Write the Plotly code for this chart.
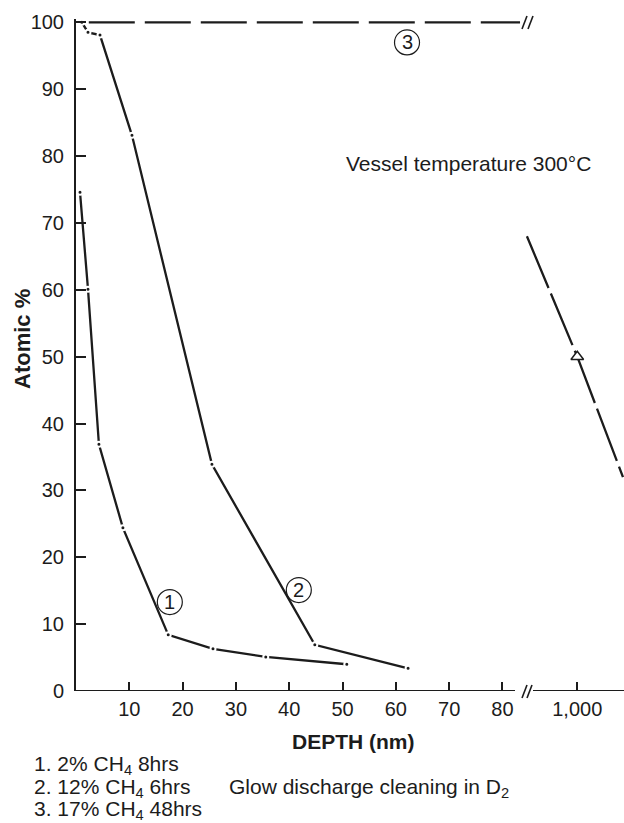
import plotly.graph_objects as go

# ---- data ----
c1_depth = [0.75, 2.25, 4.3, 8.8, 17.3, 25.7, 35.6, 50.8]
c1_atomic = [74.6, 60.1, 36.9, 24.4, 8.4, 6.3, 5.1, 4.0]

c2_depth = [1.1, 2.25, 4.5, 10.5, 25.5, 44.8, 62.3]
c2_atomic = [100.0, 98.5, 98.1, 83.1, 33.9, 6.9, 3.4]

c3_depth = [2.4, 83.3]
c3_atomic = [100.0, 100.0]

c3b_depth = [903, 1000, 1088]
c3b_atomic = [68.0, 50.0, 32.0]

x_ticks = [10, 20, 30, 40, 50, 60, 70, 80]
x2_ticks = [1000]
x2_ticktext = ["1,000"]
y_ticks = [0, 10, 20, 30, 40, 50, 60, 70, 80, 90, 100]

legend_lines = ["1. 2% CH<sub>4</sub> 8hrs", "2. 12% CH<sub>4</sub> 6hrs", "3. 17% CH<sub>4</sub> 48hrs"]
note_text = "Glow discharge cleaning in D<sub>2</sub>"
vessel_text = "Vessel temperature 300°C"

# ---- styling ----
INK = "#1c1c1c"
FONT = "Liberation Sans, Arial, Helvetica, sans-serif"
W, H = 624, 823
L, R, T, B = 76, 0, 19, 132
PW, PH = W - L - R, H - T - B
TXT = 21


def px(xp):
    return (xp - L) / PW


def py(yp):
    return (H - B - yp) / PH


fig = go.Figure()

mk = dict(size=5, color=INK, line=dict(color="white", width=2))
fig.add_trace(go.Scatter(x=c1_depth, y=c1_atomic, mode="lines+markers",
                         line=dict(color=INK, width=2.3), marker=mk))
fig.add_trace(go.Scatter(x=c2_depth, y=c2_atomic, mode="lines+markers",
                         line=dict(color=INK, width=2.3), marker=mk))
fig.add_trace(go.Scatter(x=c3_depth, y=c3_atomic, mode="lines",
                         line=dict(color=INK, width=2.3, dash="46px,10px")))
fig.add_trace(go.Scatter(x=c3b_depth, y=c3b_atomic, mode="lines", xaxis="x2", yaxis="y",
                         line=dict(color=INK, width=2.3, dash="56px,6px")))
fig.add_trace(go.Scatter(x=[c3b_depth[1]], y=[c3b_atomic[1]], mode="markers", xaxis="x2", yaxis="y",
                         marker=dict(symbol="triangle-up", size=11, color="white",
                                     line=dict(color=INK, width=1.5))))

shapes = []
# x axis line (broken)
shapes.append(dict(type="line", xref="paper", yref="y", x0=0, x1=px(515), y0=0, y1=0,
                   line=dict(color=INK, width=2)))
shapes.append(dict(type="line", xref="paper", yref="y", x0=px(533), x1=1, y0=0, y1=0,
                   line=dict(color=INK, width=2)))
# break marks
for (xa, ya, xb, yb) in [(522, 698, 527, 685), (527, 698, 532, 685),
                         (522, 29, 527, 16), (528, 29, 533, 16)]:
    shapes.append(dict(type="line", xref="paper", yref="paper", x0=px(xa), y0=py(ya),
                       x1=px(xb), y1=py(yb), line=dict(color=INK, width=1.6)))

annotations = []
# circled labels
for lab, cx, cy in [("1", 17.6, 13.3), ("2", 41.8, 15.1), ("3", 62.1, 97.0)]:
    shapes.append(dict(type="circle", xref="x", yref="y", xsizemode="pixel", ysizemode="pixel",
                       xanchor=cx, yanchor=cy, x0=-12.5, x1=12.5, y0=-12.5, y1=12.5,
                       line=dict(color=INK, width=1.2)))
    annotations.append(dict(x=cx, y=cy, xref="x", yref="y", text=lab, showarrow=False,
                            xanchor="center", yanchor="middle",
                            font=dict(family=FONT, size=20, color=INK)))

annotations.append(dict(x=73.7, y=78.9, xref="x", yref="y", text=vessel_text, showarrow=False,
                        xanchor="center", yanchor="middle",
                        font=dict(family=FONT, size=TXT, color=INK)))
annotations.append(dict(x=px(353), y=py(741), xref="paper", yref="paper", text="<b>DEPTH (nm)</b>",
                        xanchor="center", yanchor="middle",
                        showarrow=False, font=dict(family=FONT, size=TXT, color=INK)))
annotations.append(dict(x=px(22), y=py(339), xref="paper", yref="paper", text="<b>Atomic %</b>",
                        xanchor="center", yanchor="middle",
                        textangle=-90, showarrow=False, font=dict(family=FONT, size=22, color=INK)))
for i, (t, yc) in enumerate(zip(legend_lines, [765, 788, 810])):
    annotations.append(dict(x=px(32), y=py(yc), xref="paper", yref="paper", text=t,
                            xanchor="left", yanchor="middle",
                            showarrow=False, font=dict(family=FONT, size=TXT, color=INK)))
annotations.append(dict(x=px(227), y=py(788), xref="paper", yref="paper", text=note_text,
                        xanchor="left", yanchor="middle",
                        showarrow=False, font=dict(family=FONT, size=TXT, color=INK)))

tickfont = dict(family=FONT, size=20, color=INK)
fig.update_layout(
    width=W, height=H,
    margin=dict(l=L, r=R, t=T, b=B),
    paper_bgcolor="white", plot_bgcolor="white",
    showlegend=False,
    xaxis=dict(domain=[0, 0.82], range=[0, 84.3], tickvals=x_ticks, ticks="inside", ticklen=9,
               tickwidth=1.6, tickcolor=INK, showline=False, showgrid=False, zeroline=False,
               tickfont=tickfont, anchor="y", ticklabelstandoff=4),
    xaxis2=dict(domain=[0.82, 1], range=[900, 1090], tickvals=x2_ticks, ticktext=x2_ticktext,
                ticks="inside", ticklen=9, tickwidth=1.6, tickcolor=INK, showline=False,
                showgrid=False, zeroline=False, tickfont=tickfont, anchor="y", ticklabelstandoff=4),
    yaxis=dict(range=[0, 100.5], tickvals=y_ticks, ticks="inside", ticklen=10, tickwidth=1.6,
               tickcolor=INK, showline=True, linewidth=2, linecolor=INK, showgrid=False,
               zeroline=False, tickfont=tickfont, anchor="x", ticklabelstandoff=6),
    shapes=shapes,
    annotations=annotations,
)

fig.write_html("out.html")
